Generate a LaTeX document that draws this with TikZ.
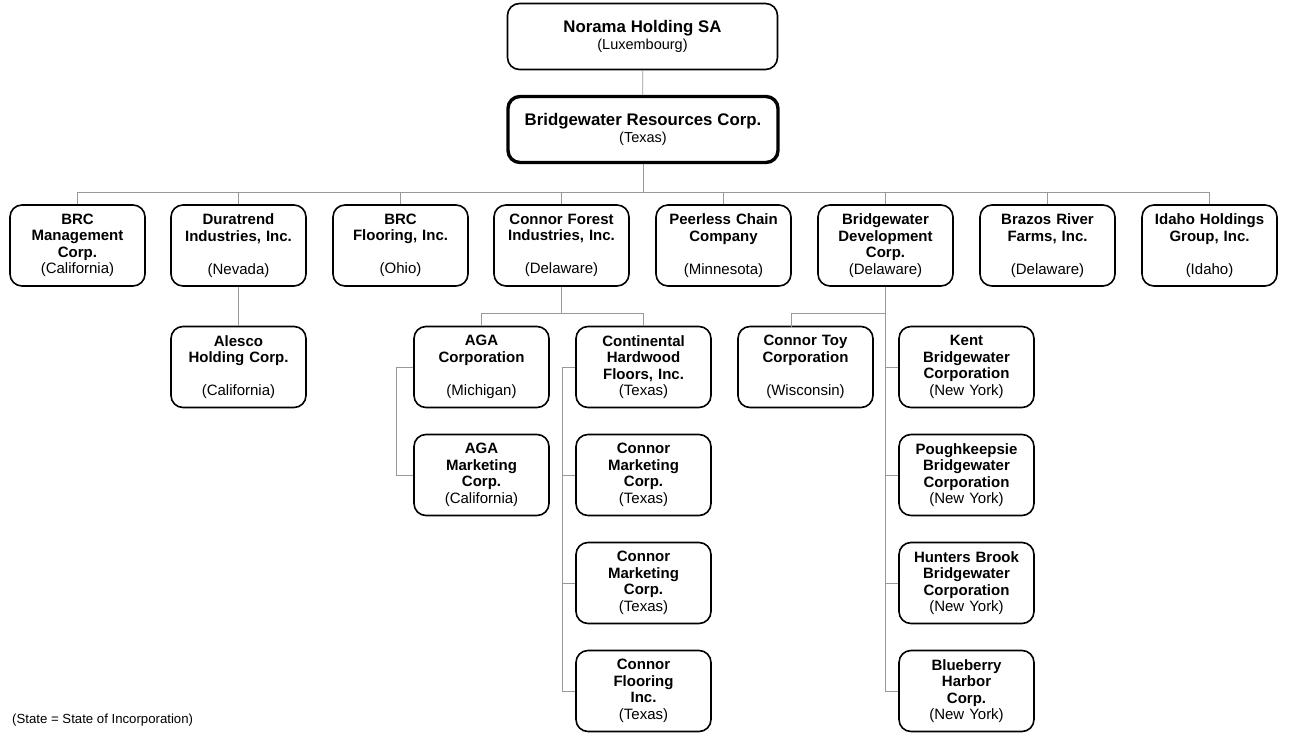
\documentclass[tikz,border=0pt]{standalone}
\usepackage{fontspec}
\setmainfont{Liberation Sans}

\begin{document}
\begin{tikzpicture}[x=1pt,y=-1pt]
	\tikzset{firm/.style = {draw, line width=1.6pt, rounded corners=12pt, minimum width=135pt, minimum height=81pt, text width=130pt, align=center, inner sep=0pt, font=\fontsize{15}{16.5}\selectfont}}
	\tikzset{head/.style = {firm, minimum width=270pt, minimum height=66pt, text width=260pt, font=\fontsize{14.5}{17}\selectfont}}
	\tikzset{link/.style = {draw=gray!80, line width=0.8pt}}
	\useasboundingbox (0,0) rectangle (1292,733);
	% top of the chart
	\node[head] (norama) at (642.5,36.5) {{\fontsize{16.8}{19}\selectfont\textbf{Norama Holding SA}}\\(Luxembourg)};
	\node[head, line width=3.4pt] (brc) at (643,129.5) {{\fontsize{16.8}{19}\selectfont\textbf{Bridgewater Resources Corp.}}\\(Texas)};
	% first row
	\node[firm] (brcmgmt) at (77.5,245.5) {\textbf{BRC}\\\textbf{Management}\\\textbf{Corp.}\\(California)};
	\node[firm] (duratrend) at (238.5,245.5) {\textbf{Duratrend}\\\textbf{Industries, Inc.}\\~\\(Nevada)};
	\node[firm] (brcfloor) at (400.5,245.5) {\textbf{BRC}\\\textbf{Flooring, Inc.}\\~\\(Ohio)};
	\node[firm] (connor) at (561.5,245.5) {\textbf{Connor Forest}\\\textbf{Industries, Inc.}\\~\\(Delaware)};
	\node[firm] (peerless) at (723.5,245.5) {\textbf{Peerless Chain}\\\textbf{Company}\\~\\(Minnesota)};
	\node[firm] (bdev) at (885.5,245.5) {\textbf{Bridgewater}\\\textbf{Development}\\\textbf{Corp.}\\(Delaware)};
	\node[firm] (brazos) at (1047.5,245.5) {\textbf{Brazos River}\\\textbf{Farms, Inc.}\\~\\(Delaware)};
	\node[firm] (idaho) at (1209.5,245.5) {\textbf{Idaho Holdings}\\\textbf{Group, Inc.}\\~\\(Idaho)};
	% second row
	\node[firm] (alesco) at (238.5,367) {\textbf{Alesco}\\\textbf{Holding Corp.}\\~\\(California)};
	\node[firm] (aga) at (481.5,367) {\textbf{AGA}\\\textbf{Corporation}\\~\\(Michigan)};
	\node[firm] (chf) at (643.5,367) {\textbf{Continental}\\\textbf{Hardwood}\\\textbf{Floors, Inc.}\\(Texas)};
	\node[firm] (ctoy) at (805.5,367) {\textbf{Connor Toy}\\\textbf{Corporation}\\~\\(Wisconsin)};
	\node[firm] (kent) at (966.5,367) {\textbf{Kent}\\\textbf{Bridgewater}\\\textbf{Corporation}\\(New York)};
	% third row
	\node[firm] (agamkt) at (481.5,475) {\textbf{AGA}\\\textbf{Marketing}\\\textbf{Corp.}\\(California)};
	\node[firm] (cmkta) at (643.5,475) {\textbf{Connor}\\\textbf{Marketing}\\\textbf{Corp.}\\(Texas)};
	\node[firm] (pough) at (966.5,475) {\textbf{Poughkeepsie}\\\textbf{Bridgewater}\\\textbf{Corporation}\\(New York)};
	% fourth and fifth rows
	\node[firm] (cmktb) at (643.5,583) {\textbf{Connor}\\\textbf{Marketing}\\\textbf{Corp.}\\(Texas)};
	\node[firm] (hunters) at (966.5,583) {\textbf{Hunters Brook}\\\textbf{Bridgewater}\\\textbf{Corporation}\\(New York)};
	\node[firm] (cfloor) at (643.5,691) {\textbf{Connor}\\\textbf{Flooring}\\\textbf{Inc.}\\(Texas)};
	\node[firm] (blueberry) at (966.5,691) {\textbf{Blueberry}\\\textbf{Harbor}\\\textbf{Corp.}\\(New York)};
	\node[anchor=west, inner sep=0pt, font=\fontsize{13.2}{15}\selectfont] (note) at (12,720) {(State = State of Incorporation)};
	% connectors
	\coordinate (bus) at (643,192);
	\coordinate (toyin) at (791,326.5);
	\draw[link] (norama) -- (brc);
	\draw[link] (brc.south) -- (bus);
	\foreach \n in {brcmgmt, duratrend, brcfloor, connor, peerless, bdev, brazos, idaho}
		\draw[link] (bus) -| (\n.north);
	\draw[link] (duratrend) -- (alesco);
	\draw[link] (connor.south) -- ++(0,27) -| (aga.north);
	\draw[link] (connor.south) -- ++(0,27) -| (chf.north);
	\draw[link] (aga.west) -- ++(-17,0) |- (agamkt.west);
	\foreach \n in {cmkta, cmktb, cfloor}
		\draw[link] (chf.west) -- ++(-13,0) |- (\n.west);
	\draw[link] (bdev.south) -- ++(0,27) -| (toyin);
	\draw[link] (bdev.south) -- (bdev.south |- blueberry.west) -- (blueberry.west);
	\foreach \n in {kent, pough, hunters}
		\draw[link] (bdev.south |- \n.west) -- (\n.west);
\end{tikzpicture}
\end{document}
